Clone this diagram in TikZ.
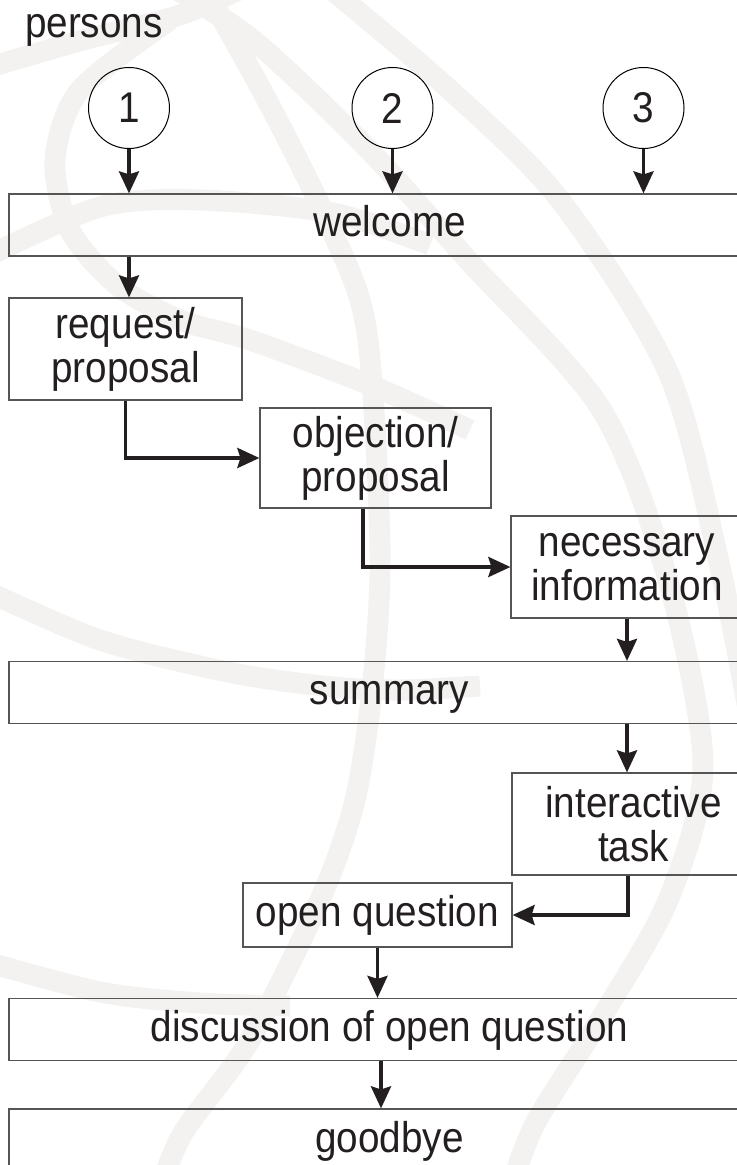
\documentclass[tikz,border=0pt]{standalone}
\usepackage{fontspec}
\setmainfont{Liberation Sans}[FakeStretch=0.9]
\usetikzlibrary{positioning, arrows.meta, shapes.geometric, calc}

\definecolor{inkgray}{RGB}{35,31,32}
\definecolor{framegray}{RGB}{85,85,85}
\definecolor{globegray}{RGB}{243,242,240}

\begin{document}
\begin{tikzpicture}[
    x=0.5pt, y=-0.5pt,
    every node/.style={font=\fontsize{21.5}{22}\selectfont, text=inkgray},
    person/.style={circle, draw=black, line width=0.5pt, minimum size=40.5pt, inner sep=0pt},
    wide/.style={rectangle, draw=framegray, line width=0.6pt, minimum width=380.5pt, minimum height=31pt, text height=15pt, text depth=3pt},
    stage/.style={rectangle, draw=framegray, line width=0.6pt, minimum height=51pt, align=center, inner sep=0pt},
    arrow/.style={-{Stealth[length=11pt, width=10pt, inset=1.5pt]}, line width=1.8pt, draw=inkgray},
    globe/.style={draw=globegray, line width=10.5pt}
]

\useasboundingbox (0,0) rectangle (736,1165);

% Globe in the background
\draw[globe] plot[smooth] coordinates {(320,-20) (450,90) (560,200) (668,372) (718,558) (750,720)};
\draw[globe] plot[smooth] coordinates {(160,-20) (253,40) (368,149) (468,260) (601,409) (668,580) (703,765) (669,898) (603,1015) (536,1122) (510,1190)};
\draw[globe] plot[smooth] coordinates {(200,-20) (267,100) (333,233) (367,333) (380,547) (373,680) (355,800) (320,900) (250,1040) (183,1133) (160,1190)};
\draw[globe] plot[smooth] coordinates {(-20,70) (83,40) (180,15) (260,-20)};
\draw[globe] plot[smooth] coordinates {(170,20) (80,90) (55,160) (70,230) (117,285) (180,320) (250,340) (370,385) (470,430)};
\draw[globe] plot[smooth] coordinates {(-20,260) (100,207) (200,200) (333,213) (430,245)};
\draw[globe] plot[smooth] coordinates {(-20,588) (100,640) (233,673) (333,687) (400,690) (480,686)};
\draw[globe] plot[smooth] coordinates {(-20,960) (100,992) (200,1003) (290,1006)};

% Persons
\node[anchor=base west] (persons) at (18,38) {persons};
\node[person] (c1) at (129,108) {1};
\node[person] (c2) at (392.5,108) {2};
\node[person] (c3) at (643.5,108) {3};

% Steps
\node[wide] (welcome) at (389.5,225) {welcome};
\node[stage, minimum width=116.5pt] (request) at (125.5,349) {request/\\proposal};
\node[stage, minimum width=115.5pt, minimum height=50pt] (objection) at (375.5,458) {objection/\\proposal};
\node[stage, minimum width=116pt] (necessary) at (627,567) {necessary\\information};
\node[wide] (summary) at (389.5,692.5) {summary};
\node[stage, minimum width=121.5pt] (interactive) at (633.5,824) {interactive\\task};
\node[stage, minimum width=134.5pt, minimum height=32pt] (open) at (377.5,915) {open question};
\node[wide] (discussion) at (389.5,1029.5) {discussion of open question};
\node[wide] (goodbye) at (389.5,1140) {goodbye};

% Arrows
\draw[arrow] (c1) -- (c1 |- welcome.north);
\draw[arrow] (c2) -- (c2 |- welcome.north);
\draw[arrow] (c3) -- (c3 |- welcome.north);
\draw[arrow] (welcome.south -| c1) -- (c1 |- request.north);
\draw[arrow] (request) |- (objection);
\draw[arrow] ([xshift=-6.25pt]objection.south) |- (necessary);
\draw[arrow] (necessary) -- (necessary |- summary.north);
\draw[arrow] (summary.south -| necessary) -- (necessary |- interactive.north);
\draw[arrow] ([xshift=-2.75pt]interactive.south) |- (open);
\draw[arrow] (open) -- (open |- discussion.north);
\draw[arrow] ([xshift=1.75pt]discussion.south -| open) -- ([xshift=1.75pt]open |- goodbye.north);

\end{tikzpicture}
\end{document}
